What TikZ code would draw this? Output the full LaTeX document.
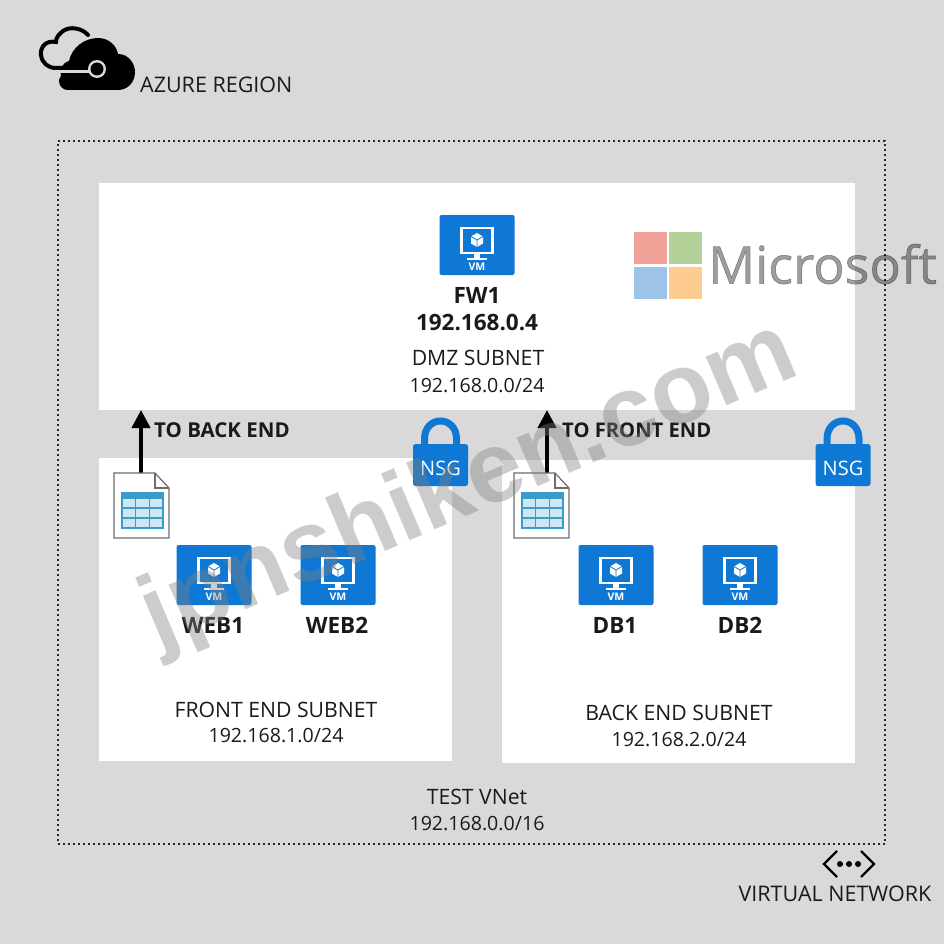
\documentclass[tikz,border=0pt]{standalone}
\usepackage{fontspec}
\setmainfont{Open Sans}
\newfontfamily\wmfont{Liberation Sans}
\newfontfamily\msfont[RawFeature={embolden=1.0}]{Open Sans}
\definecolor{bgc}{HTML}{D9D9D9}
\definecolor{azure}{HTML}{0F78D4}
\definecolor{ink}{HTML}{1A1A1A}
\definecolor{tabhead}{HTML}{3C9CC8}
\definecolor{tabcell}{HTML}{CFE6F5}
\definecolor{msred}{HTML}{F2A298}
\definecolor{msgreen}{HTML}{B5D19A}
\definecolor{msblue}{HTML}{9DC3E6}
\definecolor{msorange}{HTML}{FFCC8F}
\usetikzlibrary{arrows.meta}
\tikzset{
  subnet/.style={fill=white,draw=none,inner sep=0pt,rectangle},
  txt/.style={text=ink,inner sep=0pt,font=\fontsize{21.2}{25}\selectfont},
  iptxt/.style={text=ink,inner sep=0pt,font=\fontsize{19.6}{24}\selectfont},
  txtb/.style={text=ink,inner sep=0pt,font=\fontsize{20.2}{25}\selectfont\bfseries},
  namebold/.style={text=ink,inner sep=0pt,font=\fontsize{22.5}{26}\selectfont\bfseries},
  flow/.style={line width=4pt,draw=black,-{Triangle[width=18pt,length=18pt]}},
  vmbox/.style={fill=azure,rounded corners=2pt,minimum width=75pt,minimum height=60pt,inner sep=0pt},
  pics/vmicon/.style={code={
    \draw[white,line width=2.2pt] (-15.5,-17) rectangle (15.5,8);
    \fill[white] (-3,8) rectangle (3,13);
    \fill[white] (-10,12.5) rectangle (10,15);
    \fill[white] (0,-12) -- (6,-8.5) -- (6,-1.5) -- (0,2) -- (-6,-1.5) -- (-6,-8.5) -- cycle;
    \draw[azure,line width=.8pt] (-6,-8.5) -- (0,-5) -- (6,-8.5) (0,-5) -- (0,2);
    \node[text=white,inner sep=0pt,font=\fontsize{10.5}{12}\selectfont\bfseries] at (0,22) {VM};
  }},
  pics/docicon/.style={code={
    \draw[fill=white,draw=gray!85!black,line width=1.2pt] (0,0) -- (41,0) -- (55,15) -- (55,65) -- (0,65) -- cycle;
    \draw[draw=gray!85!black,line width=1.2pt] (41,0) -- (41,15) -- (55,15);
    \fill[tabcell] (8,20) rectangle (49,55);
    \fill[tabhead] (8,20) rectangle (49,26);
    \draw[tabhead,line width=1.1pt] (8,20) rectangle (49,55)
      (8,35) -- (49,35) (8,45) -- (49,45)
      (21.5,26) -- (21.5,55) (35.5,26) -- (35.5,55);
  }},
  pics/lockicon/.style={code={
    \draw[azure,line width=7pt] (-16,4) -- (-16,-8) .. controls (-16,-32) and (16,-32) .. (16,-8) -- (16,4);
    \fill[azure,rounded corners=2.5pt] (-27.5,-3) rectangle (27.5,39);
    \node[text=white,inner sep=0pt,font=\fontsize{20}{24}\selectfont] at (0,21) {NSG};
  }},
}
\begin{document}
\begin{tikzpicture}[x=1pt,y=-1pt]
\useasboundingbox (0,0) rectangle (944,944);
\fill[bgc] (0,0) rectangle (944,944);

% Azure region icon
\draw[black,line width=4pt,line cap=round,fill=none]
  (88,35) .. controls (82,28) and (70,26) .. (63,31)
  .. controls (58,35) and (56,38) .. (56,42)
  .. controls (46,40) and (40,47) .. (41,55)
  .. controls (42,63) and (48,68) .. (56,68) -- (92,68);
\fill[black] (68,90) .. controls (59,90) and (57,79) .. (61,76)
  .. controls (59,70) and (62,63) .. (69,61)
  .. controls (72,47) and (85,38) .. (98,38)
  .. controls (110,38) and (117,47) .. (118,54)
  .. controls (129,54) and (135,64) .. (135,72)
  .. controls (135,83) and (127,90) .. (118,90) -- cycle;
\draw[bgc,line width=3pt] (60,71.8) -- (92,71.8);
\draw[black,line width=4pt] (56,68) -- (92,68);
\fill[bgc] (97,69) circle[radius=9];
\fill[black] (97,69) circle[radius=6.5];

\node[txt,anchor=west,font=\fontsize{21.5}{25}\selectfont] (azurelabel) at (140,84.5) {AZURE REGION};

% Virtual network boundary
\node[draw=black!85,dash pattern=on 1.6pt off 3.4pt,line width=1.6pt,minimum width=827pt,minimum height=703pt,inner sep=0pt] (vnet) at (471.5,492.5) {};

% Subnets
\node[subnet,minimum width=756pt,minimum height=227pt] (dmz) at (477,296.5) {};
\node[subnet,minimum width=353pt,minimum height=303pt] (front) at (275.5,609.5) {};
\node[subnet,minimum width=353pt,minimum height=303pt] (back) at (678.5,611.5) {};

% VMs
\node[vmbox] (fw) at (477,245) {};
\pic at (fw) {vmicon};
\node[vmbox] (web1) at (214,575) {};
\pic at (web1) {vmicon};
\node[vmbox] (web2) at (338,575) {};
\pic at (web2) {vmicon};
\node[vmbox] (db1) at (616,575) {};
\pic at (db1) {vmicon};
\node[vmbox] (db2) at (740,575) {};
\pic at (db2) {vmicon};

% Route tables and arrows
\coordinate (doca) at (114,473);
\coordinate (docb) at (514,473);
\coordinate (arrowatail) at (141,474);
\coordinate (arrowahead) at (141,410);
\coordinate (arrowbtail) at (547,474);
\coordinate (arrowbhead) at (547,410);
\draw[flow] (arrowatail) -- (arrowahead);
\draw[flow] (arrowbtail) -- (arrowbhead);
\pic at (doca) {docicon};
\pic at (docb) {docicon};

% NSG locks
\coordinate (locka) at (440.5,447);
\coordinate (lockb) at (843,447);
\pic at (locka) {lockicon};
\pic at (lockb) {lockicon};

% Text
\node[txtb,anchor=west,font=\fontsize{20.5}{25}\selectfont\bfseries] (tobe) at (154,430) {TO BACK END};
\node[txtb,anchor=west] (tofe) at (562,430) {TO FRONT END};
\node[namebold] (fwname) at (477,295) {FW1};
\node[namebold] (fwip) at (477,322) {192.168.0.4};
\node[txt] (dmzname) at (478,358) {DMZ SUBNET};
\node[iptxt] (dmzip) at (477,386) {192.168.0.0/24};
\node[namebold] (web1name) at (213,625) {WEB1};
\node[namebold] (web2name) at (337,625) {WEB2};
\node[namebold] (db1name) at (615,625) {DB1};
\node[namebold] (db2name) at (740,625) {DB2};
\node[txt] (fename) at (276,710) {FRONT END SUBNET};
\node[iptxt] (feip) at (276,736) {192.168.1.0/24};
\node[txt] (bename) at (679,713) {BACK END SUBNET};
\node[iptxt] (beip) at (679,740) {192.168.2.0/24};
\node[txt] (vnname) at (477,797) {TEST VNet};
\node[iptxt] (vnip) at (477,824) {192.168.0.0/16};
\node[txt,font=\fontsize{21.5}{25}\selectfont] (vnetlabel) at (835,894) {VIRTUAL NETWORK};

% Virtual network icon
\draw[black,line width=2.4pt] (837,851) -- (824,864) -- (837,877);
\draw[black,line width=2.4pt] (861,851) -- (874,864) -- (861,877);
\fill[black] (840,864) circle[radius=3] (849,864) circle[radius=3] (858,864) circle[radius=3];

% Watermarks
\fill[msred] (634,232) rectangle (667,264);
\fill[msgreen] (669,232) rectangle (702,264);
\fill[msblue] (634,267) rectangle (667,299);
\fill[msorange] (669,267) rectangle (702,299);
\node[inner sep=0pt,anchor=west,text=black,opacity=.38,font=\msfont\fontsize{52}{60}\selectfont] (mslogo) at (708,264) {Microsoft};
\node[inner sep=0pt,text=gray,opacity=.4,rotate=23,font=\wmfont\fontsize{100}{110}\selectfont\bfseries] (wm) at (470,487) {jpnshiken.com};
\end{tikzpicture}
\end{document}
